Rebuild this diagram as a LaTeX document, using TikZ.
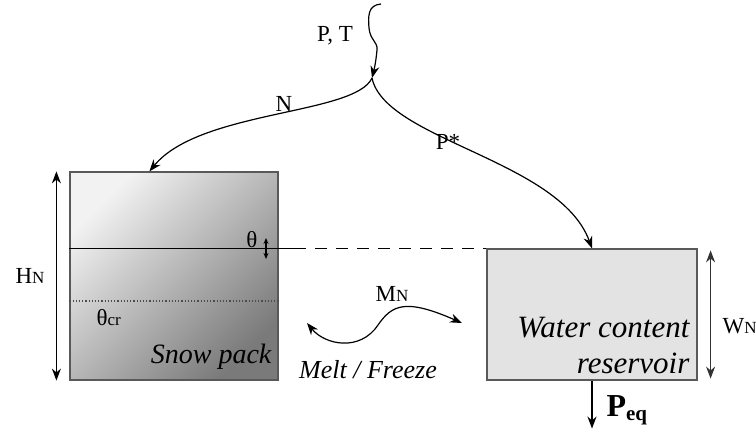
\documentclass[tikz,border=0pt]{standalone}
\usepackage{fontspec}
\setmainfont{Liberation Serif}[
    ItalicFont={Liberation Serif Italic},
    BoldFont={Liberation Serif Bold}]
\usetikzlibrary{positioning, arrows.meta}

\newcommand{\smallidx}[1]{{\fontsize{8.5}{10}\selectfont #1}}

\begin{document}
\begin{tikzpicture}[
    x=0.5pt, y=-0.5pt,
    >={Stealth[length=6pt, width=4.5pt]},
    line width=0.6pt,
    every node/.style={inner sep=0pt},
    lbl/.style={font=\fontsize{11.5}{13}\selectfont},
    boxlbl/.style={font=\fontsize{14}{16.5}\selectfont\itshape, align=right},
    snowbox/.style={
        draw=black!65,
        minimum width=104pt,
        minimum height=104pt,
        top color=black!5,
        middle color=black!9,
        bottom color=black!52,
        shading angle=45
    },
    waterbox/.style={
        draw=black!65,
        fill=black!11,
        minimum width=105pt,
        minimum height=65.5pt
    }
]
\useasboundingbox (0,0) rectangle (756,432);

% boxes
\node[snowbox] (snow) at (174,276) {};
\node[waterbox] (water) at (592,314.5) {};
\coordinate (src) at (381,4);
\coordinate (fork) at (372,78);

% levels
\draw (snow.west |- water.north) -- ++(225,0) coordinate (solidend);
\draw[dash pattern=on 6pt off 4.5pt] (solidend) -- (water.north west);
\draw[black!70, densely dotted] (snow.west |- 0,301) -- (snow.east |- 0,301);
\draw[<->, >={Stealth[length=3pt, width=2.5pt]}] (266,238) -- (266,259);

% heights
\draw[<->] ([xshift=-6.5pt]snow.north west) -- ([xshift=-6.5pt]snow.south west);
\draw[<->, black!80] ([xshift=6.5pt, yshift=-1pt]water.north east) -- ([xshift=6.5pt, yshift=1pt]water.south east);

% fluxes
\draw[->] (src) .. controls (368,5) and (368,16) .. (369,28)
    .. controls (370,40) and (378,42) .. (377,50)
    .. controls (376,60) and (375,66) .. (fork);
\draw[->] (fork) .. controls (355,115) and (200,110) .. ([xshift=40pt]snow.north west);
\draw[->] (fork) .. controls (385,140) and (560,160) .. (water.north);
\draw[<->] (307,323) .. controls (325,345) and (360,352) .. (378,325)
    .. controls (392,305) and (405,298) .. (462,323);
\draw[->, line width=1.3pt] (water.south) -- ++(0,48) coordinate (drain);

% labels
\node[lbl] (pt) at (335,36) {P, T};
\node[lbl] (nlbl) at (284,104) {N};
\node[lbl] (pstar) at (448,142) {P*};
\node[lbl] (theta) at (252,240) {θ};
\node[lbl, anchor=west] (thetacr) at (96,318) {θ\smallidx{cr}};
\node[lbl] (hn) at (30,276) {H\smallidx{N}};
\node[lbl] (mn) at (392,294) {M\smallidx{N}};
\node[lbl, anchor=west] (wn) at (722,326) {W\smallidx{N}};
\node[boxlbl, anchor=east] (snowlbl) at (272,357) {Snow pack};
\node[boxlbl, anchor=east, font=\fontsize{15.5}{18}\selectfont\itshape] (waterlbl) at (690,346) {Water content\\reservoir};
\node[boxlbl, font=\fontsize{13}{15}\selectfont\itshape] (melt) at (368,370) {Melt / Freeze};
\node[font=\fontsize{16}{18}\selectfont\bfseries, anchor=west] (peq) at (606,410) {P\raisebox{-2pt}{\fontsize{10.5}{12}\selectfont eq}};
\end{tikzpicture}
\end{document}
